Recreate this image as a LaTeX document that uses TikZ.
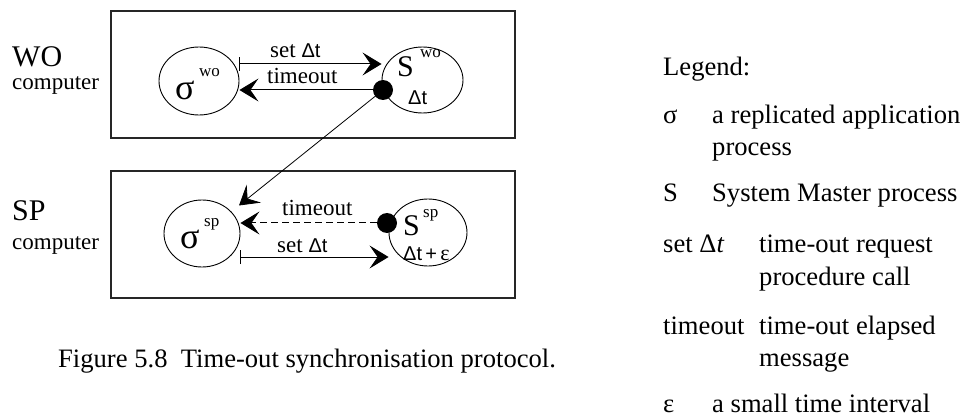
\documentclass[tikz,border=0pt]{standalone}
\usepackage{fontspec}
\setmainfont{Liberation Serif}
\newfontfamily\deltafont{Liberation Sans}
\usetikzlibrary{shapes.geometric,arrows.meta}
\newcommand\fsz[1]{\fontsize{#1}{#1}\selectfont}

\begin{document}
\begin{tikzpicture}[x=1pt,y=-1pt,
  proc/.style={ellipse, draw, line width=0.9pt, inner sep=0pt},
  hostbox/.style={draw, line width=1.1pt, black!85},
  txt/.style={inner sep=0pt, anchor=base west},
  dotmark/.style={circle, fill, inner sep=0pt, minimum size=20pt},
  msg/.style={line width=1pt, -{Stealth[length=19pt,width=23pt,inset=8pt]}},
  call/.style={line width=1pt, {Bar[width=14pt]}-{Stealth[length=19pt,width=23pt,inset=8pt]}},
  sup/.style={txt, font=\fsz{17}},
  dt/.style={txt, font=\deltafont\fsz{20}}]
\useasboundingbox (0,0) rectangle (962,417);

% host computers
\draw[hostbox] (111,11) rectangle (515,138);
\draw[hostbox] (111,171) rectangle (515,298);

\node[txt, font=\fsz{30}] (wolab) at (12,67) {WO};
\node[txt, font=\fsz{23}] (wocomp) at (12,90) {computer};
\node[txt, font=\fsz{30}] (splab) at (12,221) {SP};
\node[txt, font=\fsz{23}] (spcomp) at (12,250) {computer};

% processes
\node[proc, minimum width=80pt, minimum height=68pt] (sigwo) at (199,81) {};
\node[proc, minimum width=81pt, minimum height=66pt] (swo) at (422.5,80) {};
\node[proc, minimum width=76pt, minimum height=67pt] (sigsp) at (202,233.5) {};
\node[proc, minimum width=78pt, minimum height=67pt] (ssp) at (428,232.5) {};

\node[txt, font=\fsz{36}] (sigwoA) at (175,100) {σ};
\node[sup] (sigwoB) at (199,77) {wo};
\node[txt, font=\fsz{30}] (swoA) at (397,77) {S};
\node[sup] (swoB) at (420,58) {wo};
\node[dt] (swoC) at (408,105) {Δt};

\node[txt, font=\fsz{36}] (sigspA) at (180,248) {σ};
\node[sup] (sigspB) at (204,226) {sp};
\node[txt, font=\fsz{30}] (sspA) at (403,236) {S};
\node[sup] (sspB) at (423,218) {sp};
\node[dt] (sspC) at (403,260) {Δt\,+\,\fontspec{Liberation Serif}\fsz{22}ε};

% messages
\draw[call] (sigwo.east |- 0,64) -- (swo.west |- 0,64);
\node[txt, font=\fsz{23}] (lsetwo) at (270,58) {set \deltafont\fsz{20}Δt};
\node[txt, font=\fsz{23}] (ltowo) at (267,84) {timeout};

\node[dotmark] (dotwo) at (383,90) {};
\draw[msg] (dotwo.center) -- (sigwo.east |- dotwo);
\draw[msg, line width=0.8pt] (dotwo.center) -- ([shift={(37,-28)}]sigsp.center);

\node[dotmark] (dotsp) at (387,223) {};
\draw[msg, dash pattern=on 7pt off 4pt] (dotsp.west) -- (sigsp.east |- dotsp);
\node[txt, font=\fsz{23}] (ltosp) at (282,215) {timeout};

\draw[call] (sigsp.east |- 0,257) -- (ssp.west |- 0,257);
\node[txt, font=\fsz{23}] (lsetsp) at (277,252) {set \deltafont\fsz{20}Δt};

% caption
\node[txt, font=\fsz{26.6}] (caption) at (58,367) {Figure 5.8\ \ Time-out synchronisation protocol.};

% legend
\begin{scope}[every node/.style={txt, font=\fsz{26.6}}]
\node (leg) at (663,76) {Legend:};
\node (k1) at (663,124) {σ};
\node (d1a) at (712,124) {a replicated application};
\node (d1b) at (712,156) {process};
\node (k2) at (663,202) {S};
\node (d2) at (712,202) {System Master process};
\node (k3) at (663,252) {set Δ\textit{t}};
\node (d3a) at (759,252) {time-out request};
\node (d3b) at (759,285) {procedure call};
\node (k4) at (663,334) {timeout};
\node (d4a) at (759,334) {time-out elapsed};
\node (d4b) at (759,366) {message};
\node (k5) at (663,412) {ε};
\node (d5) at (712,412) {a small time interval};
\end{scope}
\end{tikzpicture}
\end{document}
